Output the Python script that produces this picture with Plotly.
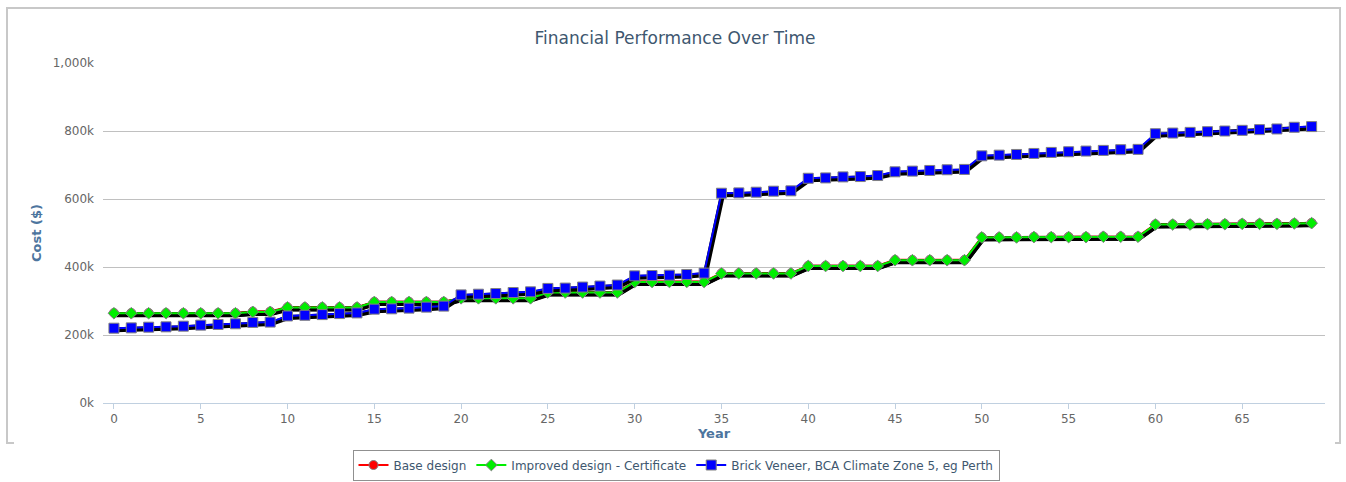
import plotly.graph_objects as go

years = list(range(70))

improved = [264, 264, 264, 264, 264, 264, 264, 264, 268, 268,
            281, 281, 281, 281, 281,
            297, 297, 297, 297, 297,
            308, 308, 308, 308, 308,
            325, 325, 325, 325, 325,
            356, 356, 356, 356, 356,
            381, 381, 381, 381, 381,
            403, 403, 403, 403, 403,
            420, 420, 420, 420, 420,
            487, 487, 487, 488, 488, 488, 488, 489, 489, 489,
            525, 525, 525, 526, 526, 527, 527, 527, 528, 529]

base = [265, 265, 265, 265, 265, 265, 265, 265, 269, 269,
        282, 282, 282, 282, 282,
        298, 298, 298, 298, 298,
        309, 309, 309, 309, 309,
        326, 326, 326, 326, 326,
        357, 357, 357, 357, 357,
        382, 382, 382, 382, 382,
        404, 404, 404, 404, 404,
        421, 421, 421, 421, 421,
        488, 488, 488, 489, 489, 489, 489, 490, 490, 490,
        526, 526, 526, 527, 527, 528, 528, 528, 529, 530]

brick = [220, 221, 223, 224, 226, 229, 231, 233, 237, 238,
         256, 258, 260, 263, 265,
         276, 277, 279, 282, 285,
         318, 320, 322, 325, 327,
         337, 338, 341, 344, 347,
         374, 375, 376, 378, 382,
         617, 618, 620, 623, 624,
         661, 662, 665, 666, 669,
         680, 682, 684, 686, 687,
         727, 729, 731, 734, 737, 739, 741, 743, 745, 746,
         792, 794, 796, 798, 800, 802, 804, 806, 811, 813]

y_tick_vals = [0, 200000, 400000, 600000, 800000, 1000000]
y_tick_text = ["0k", "200k", "400k", "600k", "800k", "1,000k"]
x_tick_vals = [0, 5, 10, 15, 20, 25, 30, 35, 40, 45, 50, 55, 60, 65]

series = [
    ("Base design", base, "#FF0000", "circle", 9),
    ("Improved design - Certificate", improved, "#00EE00", "diamond", 9),
    ("Brick Veneer, BCA Climate Zone 5, eg Perth", brick, "#0000FF", "square", 10),
]

FONT = "DejaVu Sans"
TXT = "#3E576F"

fig = go.Figure()
for name, vals, color, sym, size in series:
    yv = [v * 1000 for v in vals]
    # shadow beneath line
    fig.add_trace(go.Scatter(
        x=[x + 0.06 for x in years], y=[v - 4500 for v in yv],
        mode="lines", line=dict(color="#000000", width=5),
        showlegend=False, hoverinfo="skip"))
    fig.add_trace(go.Scatter(
        x=years, y=yv, name=name, mode="lines+markers",
        line=dict(color=color, width=2),
        marker=dict(symbol=sym, size=size, color=color,
                    line=dict(color="#808080", width=1))))

# outer frame (left, top, right, bottom corner stubs)
def px(xp):
    return (xp - 103) / 1222

def py(yp):
    return (403 - yp) / 340

frame = dict(color="#C8C8C8", width=2)
fig.add_shape(type="path", xref="paper", yref="paper",
              path=f"M {px(14)} {py(443)} L {px(7)} {py(443)} L {px(7)} {py(8)} "
                   f"L {px(1340)} {py(8)} L {px(1340)} {py(443)} L {px(1335)} {py(443)}",
              line=frame)

fig.update_layout(
    width=1346, height=482,
    margin=dict(l=103, r=21, t=63, b=79, autoexpand=False),
    paper_bgcolor="white", plot_bgcolor="white",
    font=dict(family=FONT, color=TXT),
    title=dict(text="Financial Performance Over Time", xref="container",
               x=675 / 1346, xanchor="center",
               y=1 - 38 / 482, yanchor="middle",
               font=dict(size=17, color=TXT, family=FONT)),
    showlegend=True,
    legend=dict(orientation="h", xref="container", x=676 / 1346, xanchor="center",
                yref="container", y=1 - 465 / 482, yanchor="middle",
                bordercolor="#909090", borderwidth=1, bgcolor="white",
                font=dict(size=12, color=TXT, family=FONT),
                itemwidth=30, tracegroupgap=0),
    xaxis=dict(range=[-0.63, 69.77], tickvals=x_tick_vals, showgrid=False,
               showline=True, linecolor="#C0D0E0", linewidth=1,
               ticks="outside", ticklen=5, tickcolor="#C0D0E0",
               tickfont=dict(size=12, color="#666666", family=FONT),
               title=dict(text="<b>Year</b>", standoff=1,
                          font=dict(size=13, color="#4D759E", family=FONT)),
               zeroline=False, fixedrange=True),
    yaxis=dict(range=[0, 1000000], tickvals=y_tick_vals, ticktext=y_tick_text,
               showgrid=True, gridcolor="#C0C0C0", gridwidth=1,
               showline=False, zeroline=False, ticks="", ticklabelstandoff=8,
               tickfont=dict(size=12, color="#666666", family=FONT),
               title=dict(text="<b>Cost ($)</b>", standoff=8,
                          font=dict(size=13, color="#4D759E", family=FONT)),
               fixedrange=True),
)

fig.write_html("out.html", config={"displayModeBar": False},
               post_script="document.body.style.margin='0';")
